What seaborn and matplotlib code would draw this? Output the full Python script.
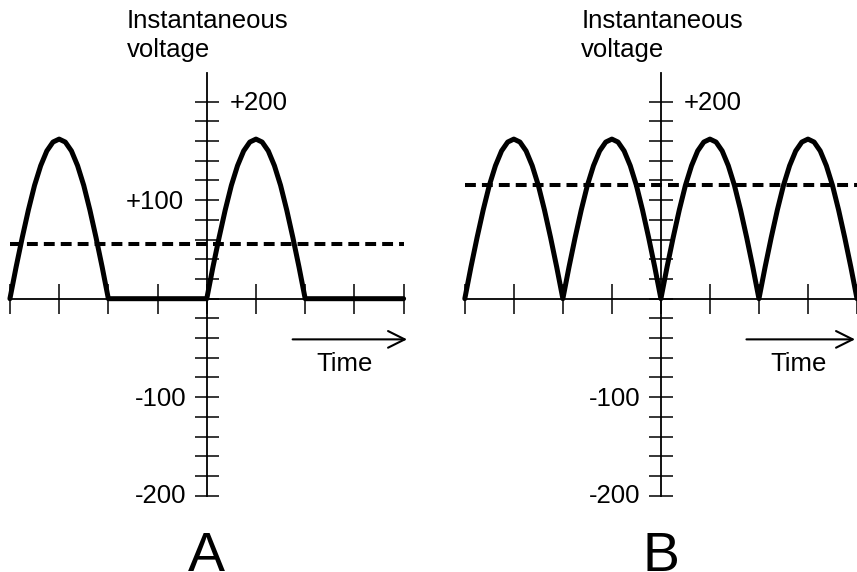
import numpy as np
import pandas as pd
import seaborn as sns
import matplotlib.pyplot as plt

# one positive half cycle of the mains voltage (17 samples)
half_cycle = [0, 32, 62, 90, 115, 135, 150, 159, 162, 159, 150, 135, 115, 90, 62, 32, 0]
off_cycle = [0] * 17

# average (dc) level, dashed line
avg_half_wave = 56
avg_full_wave = 115

panels = ['A', 'B']
x_ticks = list(range(-4, 5))
y_ticks = list(range(-200, 201, 20))

sns.set_style('white')
plt.rcParams['font.family'] = ['Liberation Sans', 'DejaVu Sans']
plt.rcParams['text.color'] = 'black'


def build_wave(halves):
    # glue half cycles together, each half cycle spans 2 time ticks
    vals = []
    for i, h in enumerate(halves):
        vals += h if i == 0 else h[1:]
    t = -4 + np.arange(len(vals)) * 2 / 16
    return pd.DataFrame({'time': t, 'volts': vals})


df_a = build_wave([half_cycle, off_cycle, half_cycle, off_cycle])
df_b = build_wave([half_cycle, half_cycle, half_cycle, half_cycle])

fig = plt.figure(figsize=(8.57, 5.72), dpi=100)
ax_a = fig.add_axes([0.0001, 0.0817, 0.5053, 0.9128])
ax_b = fig.add_axes([0.5252, 0.0817, 0.4748, 0.9128])


def draw_panel(ax, df, avg, xlim, arrow_end, show_100):
    sns.lineplot(data=df, x='time', y='volts', ax=ax, color='black', lw=3.6,
                 estimator=None, sort=False, zorder=3)
    sns.lineplot(x=[-4, 4], y=[avg, avg], ax=ax, color='black', lw=2.9,
                 linestyle=(0, (2.7, 1.5)), estimator=None, zorder=4)
    ax.set_xlim(*xlim)
    ax.set_ylim(-230, 300)
    ax.set_xlabel('')
    ax.set_ylabel('')

    # axes crossing at the origin
    for s in ['top', 'right']:
        ax.spines[s].set_visible(False)
    ax.spines['left'].set_position('zero')
    ax.spines['bottom'].set_position('zero')
    ax.spines['left'].set_bounds(-200, 229)
    ax.spines['bottom'].set_bounds(-4, 4)
    for s in ['left', 'bottom']:
        ax.spines[s].set_linewidth(1.3)
        ax.spines[s].set_color('black')
    ax.set_xticks(x_ticks)
    ax.set_yticks(y_ticks)
    ax.tick_params(axis='x', bottom=True, direction='inout', length=21, width=1.1,
                   color='black', labelbottom=False)
    ax.tick_params(axis='y', left=True, direction='inout', length=17, width=1.1,
                   color='black', labelleft=False)
    ax.set_facecolor('none')

    fs = 18.5
    ax.text(-1.626, 274.5, 'Instantaneous', fontsize=fs, va='baseline', ha='left')
    ax.text(-1.626, 245.4, 'voltage', fontsize=fs, va='baseline', ha='left')
    ax.text(0.474, 191.6, '+200', fontsize=fs, va='baseline', ha='left')
    if show_100:
        ax.text(-0.455, 90.8, '+100', fontsize=fs, va='baseline', ha='right')
    ax.text(-0.42, -109, '-100', fontsize=fs, va='baseline', ha='right')
    ax.text(-0.42, -207, '-200', fontsize=fs, va='baseline', ha='right')
    ax.text(2.236, -73, 'Time', fontsize=fs, va='baseline', ha='left')
    ax.annotate('', xy=(arrow_end, -41.3), xytext=(1.745, -41.3), annotation_clip=False,
                arrowprops=dict(arrowstyle='->,head_length=0.6,head_width=0.3',
                                mutation_scale=20, lw=1.5, color='black',
                                shrinkA=0, shrinkB=0))


draw_panel(ax_a, df_a, avg_half_wave, (-4.2, 4.6), 4.07, True)
draw_panel(ax_b, df_b, avg_full_wave, (-4.3, 3.97), 3.96, False)

for ax, name in zip([ax_a, ax_b], panels):
    ax.text(0, -276.4, name, fontsize=40, va='baseline', ha='center')

fig.savefig('out.png', dpi=100)
